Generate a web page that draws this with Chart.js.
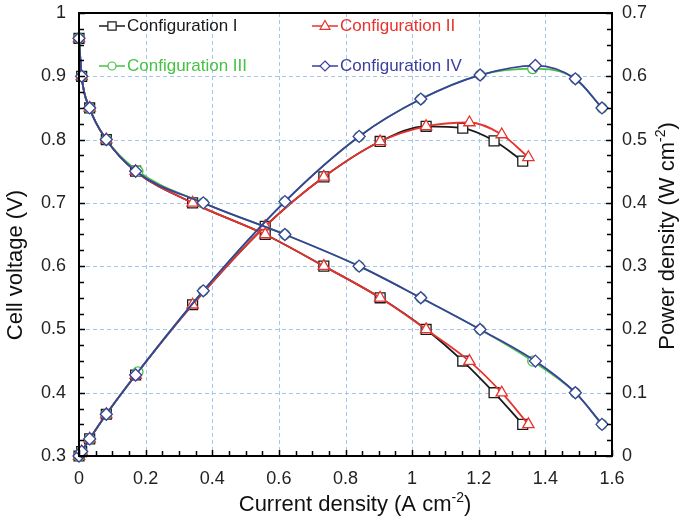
<!DOCTYPE html>
<html>
<head>
<meta charset="utf-8">
<script src="https://cdn.jsdelivr.net/npm/chart.js@4.4.0/dist/chart.umd.min.js"></script>
<style>
  html, body { margin: 0; padding: 0; background: #fff; }
  #wrap { width: 680px; height: 522px; }
</style>
</head>
<body>
<div id="wrap"><canvas id="polarization" width="680" height="522"></canvas></div>
<script>
// Polarization and power curves for four cell configurations

const voltageSteps = [0.96, 0.9, 0.85, 0.8, 0.75, 0.7, 0.65, 0.6, 0.55, 0.5, 0.45, 0.4, 0.35];

const currentI   = [0, 0.008, 0.032, 0.082, 0.17, 0.341, 0.559, 0.735, 0.904, 1.042, 1.152, 1.246, 1.332];
const currentII  = [0, 0.008, 0.032, 0.082, 0.17, 0.341, 0.559, 0.735, 0.904, 1.042, 1.172, 1.269, 1.349];
const currentIII = [0, 0.008, 0.032, 0.082, 0.177, 0.373, 0.618, 0.841, 1.026, 1.204, 1.362, 1.49, 1.57];
const currentIV  = [0, 0.008, 0.032, 0.082, 0.17, 0.373, 0.618, 0.841, 1.026, 1.204, 1.37, 1.49, 1.57];

const powerI   = [0, 0.007, 0.027, 0.066, 0.128, 0.239, 0.363, 0.441, 0.497, 0.521, 0.518, 0.498, 0.466];
const powerII  = [0, 0.007, 0.027, 0.066, 0.128, 0.239, 0.363, 0.441, 0.497, 0.521, 0.527, 0.508, 0.472];
const powerIII = [0, 0.007, 0.027, 0.066, 0.133, 0.261, 0.402, 0.505, 0.564, 0.602, 0.612, 0.596, 0.55];
const powerIV  = [0, 0.007, 0.027, 0.066, 0.128, 0.261, 0.402, 0.505, 0.564, 0.602, 0.617, 0.596, 0.55];

const configNames = ['Configuration I', 'Configuration II', 'Configuration III', 'Configuration IV'];
const configColors = ['#1a1a1a', '#e8322c', '#45c245', '#3b3f9e'];
const configMarkers = ['rect', 'triangle', 'circle', 'rectRot'];
const markerSizes = [7, 6.5, 5, 6];

const xTicks = [0, 0.2, 0.4, 0.6, 0.8, 1, 1.2, 1.4, 1.6];
const xGrid = [0.2, 0.4, 0.6, 0.8, 1, 1.2, 1.4];
const yGrid = [0.4, 0.5, 0.6, 0.7, 0.8, 0.9];
const FONT = '"Liberation Sans", Arial, sans-serif';

const currents = [currentI, currentII, currentIII, currentIV];
const powers = [powerI, powerII, powerIII, powerIV];

function makeDataset(idx, values, axis) {
    return {
        label: configNames[idx] + (axis === 'y' ? ' voltage' : ' power'),
        data: currents[idx].map((c, i) => ({ x: c, y: values[i] })),
        yAxisID: axis,
        borderColor: configColors[idx],
        backgroundColor: '#fff',
        borderWidth: 1.8,
        pointStyle: configMarkers[idx],
        pointRadius: markerSizes[idx],
        pointBorderWidth: 1.3,
        pointBackgroundColor: '#fff',
        pointBorderColor: configColors[idx],
        cubicInterpolationMode: 'monotone',
        clip: false,
        order: 4 - idx
    };
}

const datasets = [];
for (let i = 0; i < 4; i++) {
    datasets.push(makeDataset(i, voltageSteps, 'y'));
    datasets.push(makeDataset(i, powers[i], 'y1'));
}

// dashed grid under the curves
const dashedGrid = {
    id: 'dashedGrid',
    beforeDatasetsDraw(chart) {
        const ctx = chart.ctx;
        const a = chart.chartArea;
        const sx = chart.scales.x, sy = chart.scales.y;
        ctx.save();
        ctx.strokeStyle = '#a4c8ea';
        ctx.lineWidth = 1;
        ctx.setLineDash([4, 3]);
        ctx.beginPath();
        xGrid.forEach(v => {
            const px = Math.round(sx.getPixelForValue(v)) + 0.5;
            ctx.moveTo(px, a.top);
            ctx.lineTo(px, a.bottom);
        });
        yGrid.forEach(v => {
            const py = Math.round(sy.getPixelForValue(v)) + 0.5;
            ctx.moveTo(a.left, py);
            ctx.lineTo(a.right, py);
        });
        ctx.stroke();
        ctx.restore();
    }
};

// inward tick marks, frame, axis titles and the 2x2 legend
const decorations = {
    id: 'decorations',
    afterDraw(chart) {
        const ctx = chart.ctx;
        const a = chart.chartArea;
        const sx = chart.scales.x, sy = chart.scales.y, sy1 = chart.scales.y1;
        ctx.save();
        ctx.strokeStyle = '#000';
        ctx.lineWidth = 1.5;
        ctx.beginPath();
        for (let k = 0; k <= 32; k++) {
            const px = Math.round(sx.getPixelForValue(k * 0.05)) + 0.5;
            ctx.moveTo(px, a.bottom);
            ctx.lineTo(px, a.bottom - (k % 4 === 0 ? 6 : 5));
        }
        for (let k = 0; k <= 28; k++) {
            const py = Math.round(sy.getPixelForValue(0.3 + k * 0.025)) + 0.5;
            ctx.moveTo(a.left, py);
            ctx.lineTo(a.left + (k % 4 === 0 ? 6 : 5), py);
            const py1 = Math.round(sy1.getPixelForValue(k * 0.025)) + 0.5;
            ctx.moveTo(a.right, py1);
            ctx.lineTo(a.right - (k % 4 === 0 ? 6 : 5), py1);
        }
        ctx.stroke();

        ctx.lineWidth = 2;
        ctx.strokeRect(a.left, a.top, a.right - a.left, a.bottom - a.top);

        // axis titles
        ctx.fillStyle = '#111';
        drawTitle(ctx, 'Current density (A cm', '-2', ')', 355, 505, 0);
        drawTitle(ctx, 'Cell voltage (V)', '', '', 16, 265, -Math.PI / 2);
        drawTitle(ctx, 'Power density (W cm', '-2', ')', 668, 236, -Math.PI / 2);

        // legend
        const legendPos = [[99, 26], [312, 26], [99, 66], [312, 66]];
        const legendSizes = [5.5, 5.5, 4, 5];
        legendPos.forEach((p, i) => {
            const [lx, ly] = p;
            ctx.strokeStyle = configColors[i];
            ctx.lineWidth = 1.5;
            ctx.beginPath();
            ctx.moveTo(lx, ly);
            ctx.lineTo(lx + 26, ly);
            ctx.stroke();
            drawMarker(ctx, configMarkers[i], lx + 13, ly, legendSizes[i], configColors[i]);
            ctx.fillStyle = configColors[i];
            ctx.font = '17px ' + FONT;
            ctx.textAlign = 'left';
            ctx.textBaseline = 'middle';
            ctx.fillText(configNames[i], lx + 28, ly);
        });
        ctx.restore();
    }
};

function drawTitle(ctx, main, sup, tail, cx, cy, rot) {
    ctx.save();
    ctx.translate(cx, cy);
    ctx.rotate(rot);
    ctx.font = '22px ' + FONT;
    const w1 = ctx.measureText(main).width;
    const w3 = ctx.measureText(tail).width;
    ctx.font = '14px ' + FONT;
    const w2 = ctx.measureText(sup).width;
    let x = -(w1 + w2 + w3) / 2;
    ctx.textAlign = 'left';
    ctx.textBaseline = 'middle';
    ctx.font = '22px ' + FONT;
    ctx.fillText(main, x, 0);
    x += w1;
    ctx.font = '14px ' + FONT;
    ctx.fillText(sup, x, -7);
    x += w2;
    ctx.font = '22px ' + FONT;
    ctx.fillText(tail, x, 0);
    ctx.restore();
}

function drawMarker(ctx, style, x, y, r, color) {
    ctx.save();
    ctx.fillStyle = '#fff';
    ctx.strokeStyle = color;
    ctx.lineWidth = 1.2;
    ctx.beginPath();
    if (style === 'rect') {
        ctx.rect(x - r * 0.75, y - r * 0.75, r * 1.5, r * 1.5);
    } else if (style === 'triangle') {
        ctx.moveTo(x, y - r);
        ctx.lineTo(x + r * 0.9, y + r * 0.6);
        ctx.lineTo(x - r * 0.9, y + r * 0.6);
        ctx.closePath();
    } else if (style === 'circle') {
        ctx.arc(x, y, r, 0, Math.PI * 2);
    } else {
        ctx.moveTo(x, y - r);
        ctx.lineTo(x + r, y);
        ctx.lineTo(x, y + r);
        ctx.lineTo(x - r, y);
        ctx.closePath();
    }
    ctx.fill();
    ctx.stroke();
    ctx.restore();
}

function fixVertical(width) {
    return function(scale) {
        scale.width = width;
        scale.paddingTop = 0;
        scale.paddingBottom = 0;
    };
}

new Chart(document.getElementById('polarization'), {
    type: 'line',
    data: { datasets: datasets },
    plugins: [dashedGrid, decorations],
    options: {
        responsive: false,
        animation: false,
        layout: { padding: { top: 13, left: 0, right: 0, bottom: 0 } },
        plugins: {
            legend: { display: false },
            tooltip: { enabled: false }
        },
        scales: {
            x: {
                type: 'linear',
                min: 0,
                max: 1.6,
                afterBuildTicks: function(scale) {
                    scale.ticks = xTicks.map(v => ({ value: v }));
                },
                afterFit: function(scale) {
                    scale.height = 66;
                    scale.paddingLeft = 0;
                    scale.paddingRight = 0;
                },
                ticks: {
                    color: '#222',
                    padding: 12,
                    font: { family: FONT, size: 18 },
                    maxRotation: 0,
                    autoSkip: false,
                    callback: v => String(Number(v.toFixed(1)))
                },
                grid: { display: false, drawTicks: false },
                border: { display: false }
            },
            y: {
                type: 'linear',
                position: 'left',
                min: 0.3,
                max: 1,
                afterFit: fixVertical(79),
                ticks: {
                    stepSize: 0.1,
                    color: '#222',
                    padding: 13,
                    font: { family: FONT, size: 18 },
                    callback: v => String(Number(v.toFixed(1)))
                },
                grid: { display: false, drawTicks: false },
                border: { display: false }
            },
            y1: {
                type: 'linear',
                position: 'right',
                min: 0,
                max: 0.7,
                afterFit: fixVertical(68),
                ticks: {
                    stepSize: 0.1,
                    color: '#222',
                    padding: 10,
                    font: { family: FONT, size: 18 },
                    callback: v => String(Number(v.toFixed(1)))
                },
                grid: { display: false, drawTicks: false },
                border: { display: false }
            }
        }
    }
});
</script>
</body>
</html>
